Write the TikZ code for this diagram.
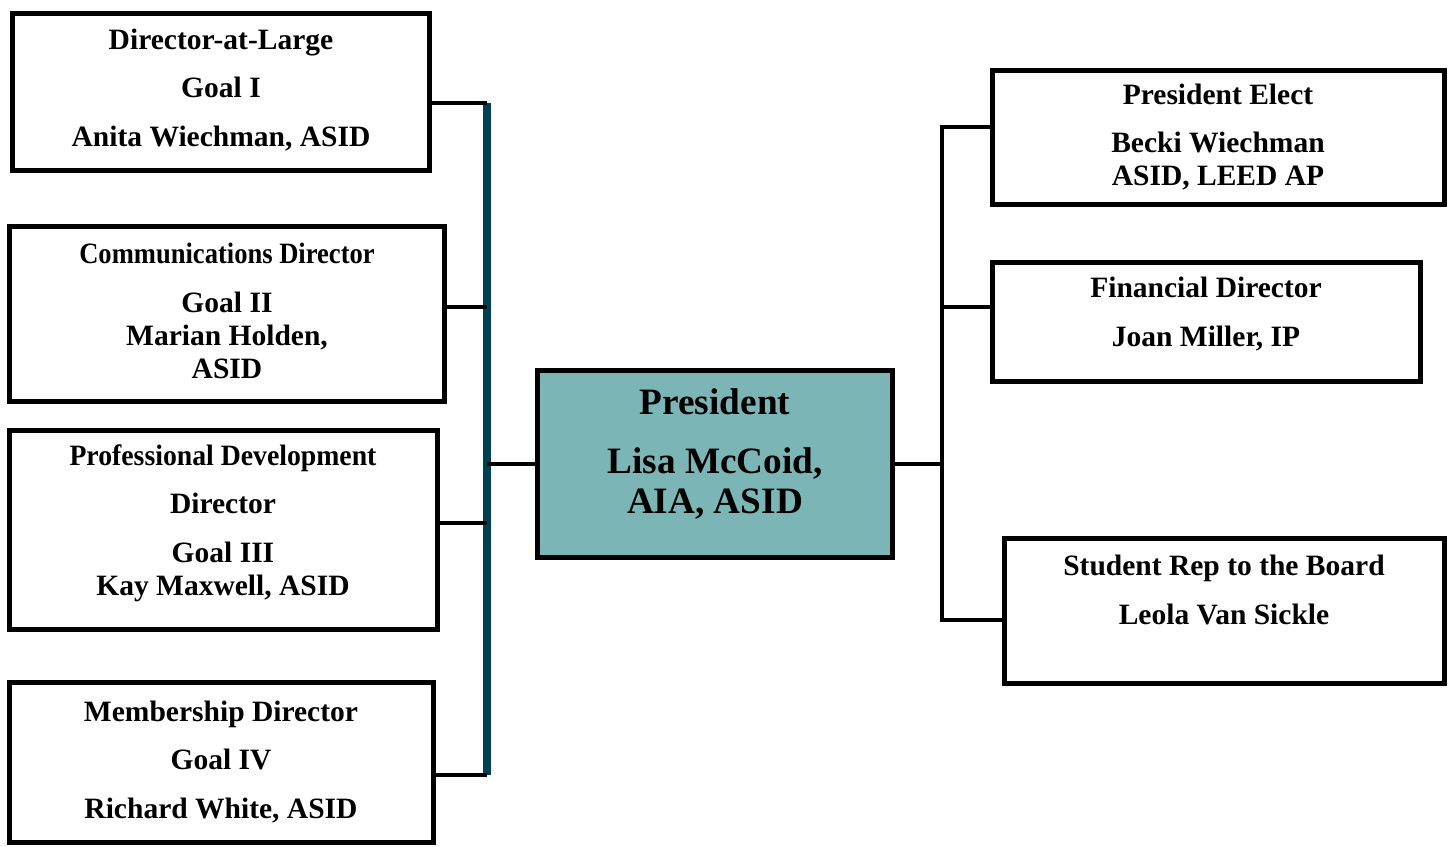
\documentclass[tikz,border=0pt]{standalone}
\usepackage{fontspec}
\setmainfont{Liberation Serif}
\usepackage{xcolor}
\usetikzlibrary{calc, positioning}
\definecolor{presfill}{RGB}{124,181,181}
\definecolor{spineteal}{RGB}{0,64,82}
\newcommand{\narrow}[2]{\scalebox{#1}[1]{#2}}

\begin{document}
\begin{tikzpicture}[x=0.02cm, y=-0.02cm,
        box/.style={draw, line width=2.8pt, rectangle, inner sep=0pt},
        txt/.style={align=center, font=\bfseries\fontsize{16.8}{18.7}\selectfont},
        bigtxt/.style={align=center, font=\bfseries\fontsize{21.2}{22.7}\selectfont},
        link/.style={draw, line width=2.8pt},
        spine/.style={draw=spineteal, line width=4.5pt}]
        \useasboundingbox (0, 0) rectangle (1455, 846);
        % left column
        \node [box, minimum width=417*0.02cm, minimum height=157*0.02cm] (dal) at (221, 92) {}; \node [txt] at (221, 90) { Director-at-Large\\[9pt] Goal I\\[9pt] Anita Wiechman, ASID };
        \node [box, minimum width=435*0.02cm, minimum height=175*0.02cm] (com) at (227, 314) {}; \node [txt] at (227, 311) { \narrow{0.9}{Communications Director}\\[9pt] Goal II\\ Marian Holden,\\ ASID };
        \node [box, minimum width=428*0.02cm, minimum height=199*0.02cm] (pd) at (223.5, 530) {}; \node [txt] at (223, 523) { \narrow{0.94}{Professional Development}\\[9pt] Director\\[9pt] Goal III\\ Kay Maxwell, ASID };
        \node [box, minimum width=424*0.02cm, minimum height=160*0.02cm] (mem) at (221.5, 762.5) {}; \node [txt] at (221, 762) { Membership Director\\[9pt] Goal IV\\[9pt] Richard White, ASID };
        % president
        \node [box, fill=presfill, minimum width=355*0.02cm, minimum height=187*0.02cm] (pres) at (715, 464) {}; \node [bigtxt] at (715, 454) { President\\[11pt] Lisa McCoid,\\ AIA, ASID };
        % right column
        \node [box, minimum width=452*0.02cm, minimum height=134*0.02cm] (pe) at (1218.5, 137.5) {}; \node [txt] at (1218, 137) { President Elect\\[9pt] Becki Wiechman\\ ASID, LEED AP };
        \node [box, minimum width=428*0.02cm, minimum height=119*0.02cm] (fin) at (1206.5, 322) {}; \node [txt] at (1206, 314) { Financial Director\\[9pt] Joan Miller, IP };
        \node [box, minimum width=440*0.02cm, minimum height=145*0.02cm] (stu) at (1224.5, 611) {}; \node [txt] at (1224, 590) { Student Rep to the Board\\[9pt] Leola Van Sickle };
        % left spine
        \coordinate (lt) at (487, 103);
        \coordinate (lb) at (487, 775);
        \coordinate (l2) at (487, 307);
        \coordinate (l3) at (487, 523);
        \draw [spine] (lt) -- (lb);
        \draw [link] (dal.east |- lt) -- (lt);
        \draw [link] (com.east |- l2) -- (l2);
        \draw [link] (pd.east |- l3) -- (l3);
        \draw [link] (mem.east |- lb) -- (lb);
        \draw [link] (pres.west) -- (pres.west -| lt);
        % right spine
        \coordinate (rt) at (942, 127);
        \coordinate (rb) at (942, 620);
        \coordinate (r2) at (942, 307);
        \draw [link] (pe.west |- rt) -- (rt) -- (rb) -- (stu.west |- rb);
        \draw [link] (fin.west |- r2) -- (r2);
        \draw [link] (pres.east) -- (pres.east -| rt);
    \end{tikzpicture}
\end{document}
